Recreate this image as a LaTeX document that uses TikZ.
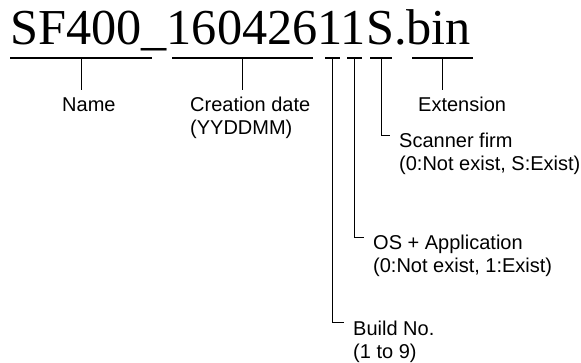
\documentclass[tikz,border=0pt]{standalone}
\usepackage{fontspec}
\setmainfont{Liberation Sans}
\newfontfamily\fnamefont{Liberation Serif}
\usetikzlibrary{positioning}

\begin{document}
\begin{tikzpicture}[x=1pt,y=-1pt,
    fname/.style={font=\fnamefont\fontsize{50.3}{50}\selectfont, inner sep=0pt},
    lbl/.style={font=\fontsize{20}{23}\selectfont, inner sep=0pt,
      text height=14.5pt, text depth=4pt},
    toplbl/.style={lbl, inner ysep=7.5pt},
    uline/.style={line width=1.3pt},
    tick/.style={line width=0.9pt}]
  \useasboundingbox (0,0) rectangle (581,363);

  % File name
  \node[fname, anchor=base west] (file) at (10,45) {SF400\_16042611S.bin};

  % Underlines of the fields
  \foreach \a/\b/\n in {10/152/uname, 172/313/udate, 325/340/ubuild,
                        347/362/uos, 370/392/uscan, 412/473/uext} {
    \draw[uline] (\a,58) -- (\b,58);
    \coordinate (\n) at ({(\a+\b)/2},58);
  }

  % Labels under the fields
  \node[toplbl, anchor=base west] (name) at (62,112) {Name};
  \node[toplbl, anchor=base west] (date) at (190,112) {Creation date};
  \node[lbl, anchor=base west] (datenote) at (190,135) {(YYDDMM)};
  \node[toplbl, anchor=base west] (ext) at (418,112) {Extension};

  \draw[tick] (uname) -- (uname |- name.north);
  \draw[tick] (udate) -- (udate |- date.north);
  \draw[tick] (uext) -- (uext |- ext.north);

  % Labels to the right
  \node[lbl, anchor=base west] (scan) at (399,148) {Scanner firm};
  \node[lbl, anchor=base west] (scannote) at (399,171) {(0:Not exist, S:Exist)};
  \node[lbl, anchor=base west] (osapp) at (373,250) {OS + Application};
  \node[lbl, anchor=base west] (osnote) at (373,273) {(0:Not exist, 1:Exist)};
  \node[lbl, anchor=base west] (build) at (353,336) {Build No.};
  \node[lbl, anchor=base west] (buildnote) at (353,359) {(1 to 9)};

  \draw[tick] (uscan) |- ([xshift=-9pt,yshift=7pt]scan.west);
  \draw[tick] (uos) |- ([xshift=-9pt,yshift=7pt]osapp.west);
  \draw[tick] (ubuild) |- ([xshift=-9pt,yshift=8pt]build.west);
\end{tikzpicture}
\end{document}
